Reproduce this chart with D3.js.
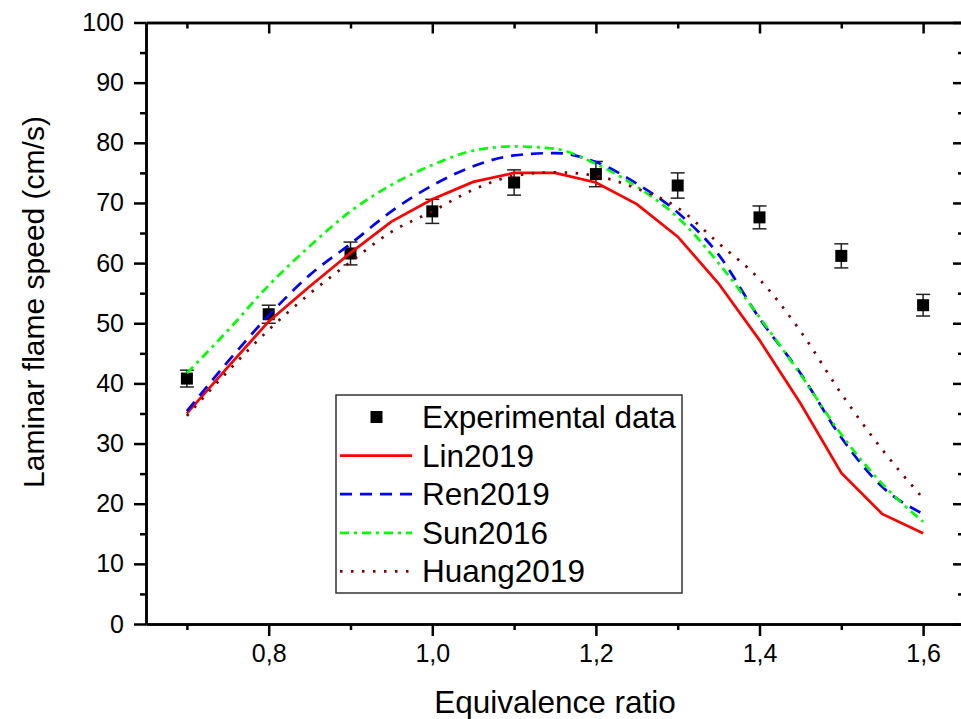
<!DOCTYPE html>
<html>
<head>
<meta charset="utf-8">
<script src="https://cdn.jsdelivr.net/npm/d3@7"></script>
<style>
  body { margin: 0; background: #fff; }
  svg { display: block; font-family: "Liberation Sans", Arial, sans-serif; }
</style>
</head>
<body>
<svg width="961" height="719"></svg>
<script>
// equivalence ratio grid of the model curves
var phiModel = [0.7, 0.75, 0.8, 0.85, 0.9, 0.95, 1.0, 1.05, 1.1, 1.15, 1.2, 1.25, 1.3, 1.35, 1.4, 1.45, 1.5, 1.55, 1.6];
var lin2019   = [35.0, 42.7, 50.3, 56.1, 61.7, 66.9, 70.6, 73.5, 75.0, 75.0, 73.4, 69.8, 64.4, 56.6, 47.2, 36.7, 25.1, 18.3, 15.1];
var ren2019   = [35.4, 43.6, 51.3, 58.0, 63.2, 68.6, 72.9, 76.1, 77.9, 78.3, 76.8, 73.2, 68.4, 61.4, 50.8, 41.7, 31.0, 22.8, 18.3];
var sun2016   = [41.7, 48.8, 56.3, 62.8, 68.6, 73.0, 76.3, 78.7, 79.4, 79.0, 76.5, 72.7, 67.6, 60.0, 51.0, 41.5, 31.5, 23.3, 17.0];
var huang2019 = [34.6, 42.0, 48.9, 54.9, 60.2, 65.2, 68.6, 72.2, 74.5, 75.1, 74.5, 72.4, 69.2, 63.3, 57.3, 48.7, 38.3, 29.0, 20.9];

// experimental data
var phiExp = [0.7, 0.8, 0.9, 1.0, 1.1, 1.2, 1.3, 1.4, 1.5, 1.6];
var speedExp = [40.8, 51.5, 61.6, 68.6, 73.4, 74.8, 72.9, 67.6, 61.2, 53.0];
var errExp = [1.4, 1.5, 1.9, 2.0, 2.1, 2.1, 2.1, 1.9, 2.0, 1.8];

var xMajor = [0.8, 1.0, 1.2, 1.4, 1.6];
var xMinor = [0.7, 0.9, 1.1, 1.3, 1.5];
var yMajor = [0, 10, 20, 30, 40, 50, 60, 70, 80, 90, 100];
var yMinor = [5, 15, 25, 35, 45, 55, 65, 75, 85, 95];

var series = [
  {name: "Lin2019",   values: lin2019,   color: "#ff0000", dash: null,      curve: d3.curveLinear},
  {name: "Ren2019",   values: ren2019,   color: "#0000ff", dash: "12,8",    curve: d3.curveMonotoneX},
  {name: "Sun2016",   values: sun2016,   color: "#00ff00", dash: "9,5,3,5", curve: d3.curveMonotoneX},
  {name: "Huang2019", values: huang2019, color: "#800000", dash: "2.5,8.5", curve: d3.curveMonotoneX}
];

var svg = d3.select("svg");
// right edge of the frame sits just outside the picture
var margin = {left: 146, top: 22.5, right: 964, bottom: 624};

var x = d3.scaleLinear().domain([0.65, 1.65]).range([margin.left, margin.right]);
var y = d3.scaleLinear().domain([0, 100]).range([margin.bottom, margin.top]);

var fmt = function(d) { return d3.format(".1f")(d).replace(".", ","); };

function styleAxis(g) {
  g.select(".domain").attr("stroke", "#000").attr("stroke-width", 2.5);
  g.selectAll(".tick line").attr("stroke", "#000").attr("stroke-width", 2.5);
  g.selectAll(".tick text").attr("font-size", 25).attr("fill", "#000")
    .attr("font-family", "Liberation Sans, Arial, sans-serif");
}

// bottom axis
svg.append("g").attr("transform", "translate(0," + margin.bottom + ")")
  .call(d3.axisBottom(x).tickValues(xMinor).tickSize(6).tickFormat("").tickSizeOuter(0))
  .call(styleAxis);
svg.append("g").attr("transform", "translate(0," + margin.bottom + ")")
  .call(d3.axisBottom(x).tickValues(xMajor).tickSize(12).tickPadding(8).tickFormat(fmt).tickSizeOuter(0))
  .call(styleAxis);

// top axis, ticks inward
svg.append("g").attr("transform", "translate(0," + margin.top + ")")
  .call(d3.axisTop(x).tickValues(xMinor).tickSize(-6).tickFormat("").tickSizeOuter(0))
  .call(styleAxis);
svg.append("g").attr("transform", "translate(0," + margin.top + ")")
  .call(d3.axisTop(x).tickValues(xMajor).tickSize(-11).tickFormat("").tickSizeOuter(0))
  .call(styleAxis);

// left axis
svg.append("g").attr("transform", "translate(" + margin.left + ",0)")
  .call(d3.axisLeft(y).tickValues(yMinor).tickSize(6).tickFormat("").tickSizeOuter(0))
  .call(styleAxis);
svg.append("g").attr("transform", "translate(" + margin.left + ",0)")
  .call(d3.axisLeft(y).tickValues(yMajor).tickSize(12).tickPadding(10).tickFormat(d3.format("d")).tickSizeOuter(0))
  .call(styleAxis);

// right axis, ticks inward
svg.append("g").attr("transform", "translate(" + margin.right + ",0)")
  .call(d3.axisRight(y).tickValues(yMinor).tickSize(-6).tickFormat("").tickSizeOuter(0))
  .call(styleAxis);
svg.append("g").attr("transform", "translate(" + margin.right + ",0)")
  .call(d3.axisRight(y).tickValues(yMajor).tickSize(-11).tickFormat("").tickSizeOuter(0))
  .call(styleAxis);

// axis titles
svg.append("text")
  .attr("x", 555).attr("y", 713)
  .attr("text-anchor", "middle")
  .attr("font-size", 31.5)
  .text("Equivalence ratio");

svg.append("text")
  .attr("transform", "translate(44,302)rotate(-90)")
  .attr("text-anchor", "middle")
  .attr("font-size", 30)
  .text("Laminar flame speed (cm/s)");

// experimental points with error bars
var expData = phiExp.map(function(p, i) { return {phi: p, v: speedExp[i], e: errExp[i]}; });

var pts = svg.append("g").attr("class", "exp")
  .selectAll("g").data(expData).enter().append("g");

pts.append("line")
  .attr("x1", function(d) { return x(d.phi); })
  .attr("x2", function(d) { return x(d.phi); })
  .attr("y1", function(d) { return y(d.v - d.e); })
  .attr("y2", function(d) { return y(d.v + d.e); })
  .attr("stroke", "#222").attr("stroke-width", 1.5);
[-1, 1].forEach(function(s) {
  pts.append("line")
    .attr("x1", function(d) { return x(d.phi) - 7; })
    .attr("x2", function(d) { return x(d.phi) + 7; })
    .attr("y1", function(d) { return y(d.v + s * d.e); })
    .attr("y2", function(d) { return y(d.v + s * d.e); })
    .attr("stroke", "#222").attr("stroke-width", 1.5);
});
pts.append("rect")
  .attr("x", function(d) { return x(d.phi) - 6; })
  .attr("y", function(d) { return y(d.v) - 6; })
  .attr("width", 12).attr("height", 12)
  .attr("fill", "#000");

// model curves, drawn over the points
series.forEach(function(s) {
  var line = d3.line()
    .x(function(d, i) { return x(phiModel[i]); })
    .y(function(d) { return y(d); })
    .curve(s.curve);
  svg.append("path")
    .datum(s.values)
    .attr("d", line)
    .attr("fill", "none")
    .attr("stroke", s.color)
    .attr("stroke-width", 2.7)
    .attr("stroke-dasharray", s.dash);
});

// legend
var lg = svg.append("g").attr("class", "legend");
lg.append("rect")
  .attr("x", 336).attr("y", 395)
  .attr("width", 346).attr("height", 198)
  .attr("fill", "#fff").attr("stroke", "#333").attr("stroke-width", 1.5);

var rowY = function(i) { return 417 + i * 38.6; };

lg.append("rect").attr("x", 370.5).attr("y", rowY(0) - 6)
  .attr("width", 12).attr("height", 12).attr("fill", "#000");
lg.append("text").attr("x", 422).attr("y", rowY(0) + 11)
  .attr("font-size", 31.5).text("Experimental data");

series.forEach(function(s, i) {
  var yy = rowY(i + 1);
  lg.append("line")
    .attr("x1", 340).attr("x2", 412)
    .attr("y1", yy).attr("y2", yy)
    .attr("stroke", s.color)
    .attr("stroke-width", 2.7)
    .attr("stroke-dasharray", s.dash);
  lg.append("text").attr("x", 422).attr("y", yy + 11)
    .attr("font-size", 31.5).text(s.name);
});
</script>
</body>
</html>
